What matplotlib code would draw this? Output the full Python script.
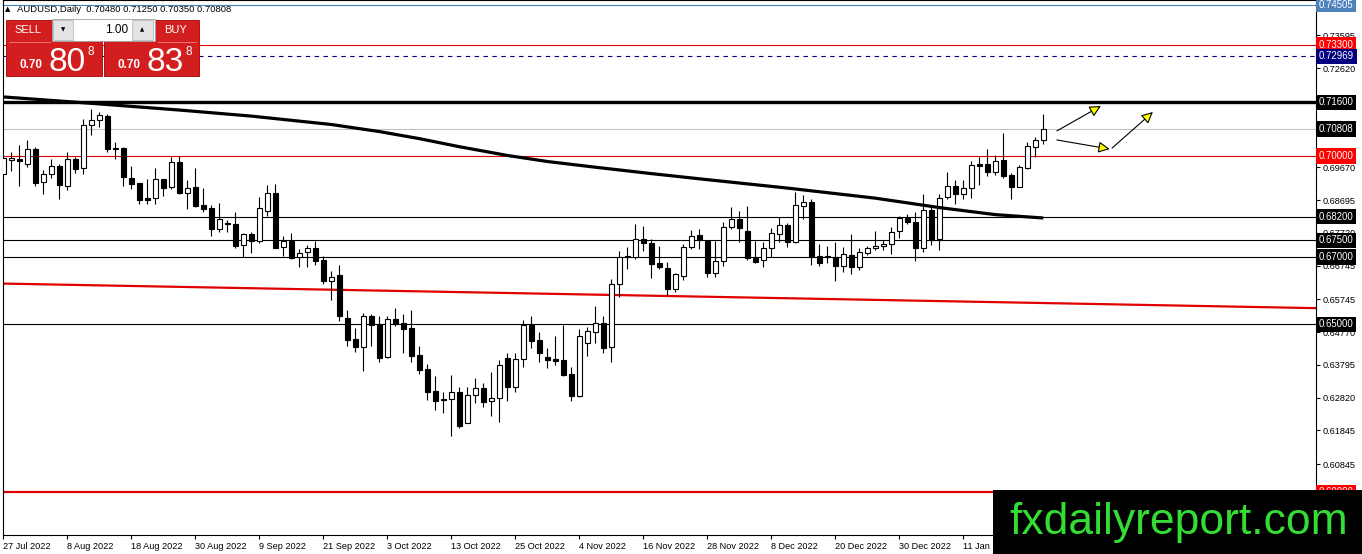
import matplotlib
matplotlib.use('Agg')
import matplotlib.pyplot as plt
import matplotlib.transforms as mtransforms
from matplotlib.patches import Rectangle

plt.rcParams['font.family'] = ['Liberation Sans', 'DejaVu Sans']

# daily AUDUSD candles, 27 Jul 2022 onwards
opens = [0.6946, 0.6989, 0.6991, 0.6978, 0.7021, 0.6922, 0.6946, 0.6971, 0.6910, 0.6990,
         0.6964, 0.7093, 0.7107, 0.7118, 0.7025, 0.7023, 0.6935, 0.6920, 0.6875, 0.6875,
         0.6931, 0.6908, 0.6982, 0.6889, 0.6907, 0.6855, 0.6846, 0.6784, 0.6802, 0.6798,
         0.6735, 0.6767, 0.6749, 0.6838, 0.6889, 0.6729, 0.6749, 0.6701, 0.6716, 0.6726,
         0.6691, 0.6630, 0.6646, 0.6518, 0.6455, 0.6433, 0.6525, 0.6501, 0.6404, 0.6515,
         0.6503, 0.6489, 0.6408, 0.6366, 0.6302, 0.6278, 0.6277, 0.6300, 0.6207, 0.6289,
         0.6310, 0.6272, 0.6280, 0.6399, 0.6313, 0.6396, 0.6498, 0.6453, 0.6402, 0.6396,
         0.6394, 0.6352, 0.6287, 0.6445, 0.6478, 0.6505, 0.6431, 0.6619, 0.6703, 0.6701,
         0.6754, 0.6741, 0.6681, 0.6666, 0.6605, 0.6645, 0.6731, 0.6765, 0.6749, 0.6652,
         0.6688, 0.6788, 0.6812, 0.6777, 0.6696, 0.6691, 0.6726, 0.6769, 0.6795, 0.6744,
         0.6853, 0.6863, 0.6703, 0.6703, 0.6701, 0.6674, 0.6706, 0.6669, 0.6713, 0.6726,
         0.6733, 0.6739, 0.6777, 0.6817, 0.6803, 0.6726, 0.6840, 0.6753, 0.6877, 0.6912,
         0.6887, 0.6904, 0.6976, 0.6976, 0.6954, 0.6988, 0.6944, 0.6909, 0.6964, 0.7028,
         0.70480]
highs = [0.7003, 0.7013, 0.7033, 0.7048, 0.7028, 0.6958, 0.6990, 0.6976, 0.7011, 0.6996,
         0.7109, 0.7140, 0.7132, 0.7125, 0.7041, 0.7028, 0.6972, 0.6920, 0.6932, 0.6965,
         0.6931, 0.6998, 0.6999, 0.6929, 0.6965, 0.6904, 0.6855, 0.6860, 0.6810, 0.6833,
         0.6772, 0.6775, 0.6877, 0.6914, 0.6917, 0.6763, 0.6770, 0.6725, 0.6736, 0.6748,
         0.6703, 0.6657, 0.6676, 0.6541, 0.6488, 0.6534, 0.6531, 0.6525, 0.6525, 0.6547,
         0.6531, 0.6542, 0.6435, 0.6382, 0.6346, 0.6300, 0.6349, 0.6313, 0.6313, 0.6339,
         0.6326, 0.6359, 0.6394, 0.6414, 0.6416, 0.6513, 0.6526, 0.6478, 0.6428, 0.6465,
         0.6498, 0.6374, 0.6485, 0.6493, 0.6554, 0.6525, 0.6635, 0.6718, 0.6731, 0.6797,
         0.6793, 0.6753, 0.6733, 0.6686, 0.6651, 0.6738, 0.6780, 0.6783, 0.6751, 0.6748,
         0.6805, 0.6850, 0.6837, 0.6852, 0.6748, 0.6746, 0.6785, 0.6818, 0.6802, 0.6894,
         0.6885, 0.6872, 0.6739, 0.6733, 0.6746, 0.6729, 0.6768, 0.6726, 0.6733, 0.6778,
         0.6751, 0.6790, 0.6822, 0.6828, 0.6835, 0.6887, 0.6850, 0.6887, 0.6954, 0.6929,
         0.6929, 0.6985, 0.6996, 0.7020, 0.7003, 0.7068, 0.6951, 0.6974, 0.7041, 0.7058,
         0.71250]
lows = [0.6939, 0.6956, 0.6912, 0.6969, 0.6912, 0.6886, 0.6936, 0.6872, 0.6898, 0.6951,
        0.6948, 0.7063, 0.7086, 0.7011, 0.6991, 0.6912, 0.6901, 0.6859, 0.6859, 0.6857,
        0.6881, 0.6903, 0.6887, 0.6842, 0.6848, 0.6835, 0.6763, 0.6775, 0.6774, 0.6728,
        0.6701, 0.6713, 0.6743, 0.6822, 0.6728, 0.6703, 0.6693, 0.6671, 0.6671, 0.6676,
        0.6620, 0.6572, 0.6511, 0.6436, 0.6419, 0.6362, 0.6435, 0.6389, 0.6401, 0.6495,
        0.6416, 0.6389, 0.6352, 0.6275, 0.6245, 0.6235, 0.6169, 0.6193, 0.6206, 0.6267,
        0.6253, 0.6227, 0.6210, 0.6273, 0.6300, 0.6372, 0.6428, 0.6389, 0.6369, 0.6379,
        0.6346, 0.6273, 0.6285, 0.6406, 0.6445, 0.6416, 0.6387, 0.6582, 0.6663, 0.6693,
        0.6718, 0.6637, 0.6663, 0.6587, 0.6597, 0.6632, 0.6723, 0.6724, 0.6642, 0.6642,
        0.6673, 0.6782, 0.6746, 0.6691, 0.6681, 0.6669, 0.6701, 0.6744, 0.6729, 0.6741,
        0.6812, 0.6676, 0.6673, 0.6681, 0.6630, 0.6656, 0.6650, 0.6661, 0.6706, 0.6721,
        0.6721, 0.6709, 0.6756, 0.6798, 0.6689, 0.6716, 0.6736, 0.6721, 0.6872, 0.6858,
        0.6872, 0.6874, 0.6914, 0.6941, 0.6944, 0.6934, 0.6872, 0.6907, 0.6961, 0.6996,
        0.70350]
closes = [0.6993, 0.6995, 0.6984, 0.7021, 0.6921, 0.6946, 0.6971, 0.6913, 0.6990, 0.6963,
          0.7092, 0.7107, 0.7121, 0.7022, 0.7020, 0.6937, 0.6918, 0.6869, 0.6870, 0.6931,
          0.6906, 0.6982, 0.6889, 0.6904, 0.6853, 0.6842, 0.6784, 0.6812, 0.6798, 0.6733,
          0.6767, 0.6749, 0.6845, 0.6889, 0.6728, 0.6749, 0.6696, 0.6713, 0.6726, 0.6689,
          0.6630, 0.6642, 0.6526, 0.6453, 0.6433, 0.6525, 0.6498, 0.6399, 0.6515, 0.6501,
          0.6487, 0.6407, 0.6364, 0.6300, 0.6273, 0.6274, 0.6298, 0.6198, 0.6289, 0.6310,
          0.6270, 0.6280, 0.6378, 0.6312, 0.6396, 0.6498, 0.6451, 0.6414, 0.6395, 0.6392,
          0.6349, 0.6287, 0.6465, 0.6480, 0.6505, 0.6430, 0.6619, 0.6701, 0.6699, 0.6753,
          0.6742, 0.6680, 0.6669, 0.6605, 0.6649, 0.6731, 0.6763, 0.6751, 0.6652, 0.6688,
          0.6788, 0.6812, 0.6785, 0.6696, 0.6686, 0.6726, 0.6772, 0.6795, 0.6746, 0.6855,
          0.6863, 0.6699, 0.6683, 0.6699, 0.6674, 0.6708, 0.6669, 0.6715, 0.6726, 0.6733,
          0.6739, 0.6775, 0.6817, 0.6803, 0.6726, 0.6840, 0.6751, 0.6874, 0.6912, 0.6887,
          0.6904, 0.6974, 0.6972, 0.6954, 0.6986, 0.6941, 0.6909, 0.6967, 0.7030, 0.7048,
          0.70808]

# slow moving average (sampled along the curve)
ma_idx = [0, 11, 22, 31, 41, 47, 52, 57, 63, 68, 74, 81, 88, 98, 109, 117, 124, 130]
ma_vals = [0.7176, 0.7157, 0.7137, 0.7119, 0.7094, 0.7073, 0.7052, 0.7028, 0.7002,
           0.6984, 0.6967, 0.6948, 0.6930, 0.6905, 0.6875, 0.6847, 0.6826, 0.6816]

# red trend line (two anchor points)
trend_idx = [0, 164]
trend_vals = [0.6621, 0.6548]

# horizontal levels: price, colour, width, style
levels = [
    (0.74505, '#4682b4', 0.8, '-'),
    (0.73300, '#e00000', 0.8, '-'),
    (0.72969, '#000080', 0.8, (0, (4, 4))),
    (0.71600, '#000000', 2.4, '-'),
    (0.70808, '#c0c0c0', 0.8, '-'),
    (0.70000, '#e00000', 0.8, '-'),
    (0.68200, '#000000', 0.8, '-'),
    (0.67500, '#000000', 0.8, '-'),
    (0.67000, '#000000', 0.8, '-'),
    (0.65000, '#000000', 0.8, '-'),
    (0.60000, '#e00000', 1.6, '-'),
]
level_labels = [
    (0.74505, '#4f81bd'), (0.73300, '#ff0000'), (0.72969, '#000080'),
    (0.71600, '#000000'), (0.70808, '#000000'), (0.70000, '#ff0000'),
    (0.68200, '#000000'), (0.67500, '#000000'), (0.67000, '#000000'),
    (0.65000, '#000000'), (0.60000, '#ff0000'),
]

price_ticks = [0.73595, 0.72620, 0.70670, 0.69670, 0.68695, 0.67720, 0.66745,
               0.65745, 0.64770, 0.63795, 0.62820, 0.61845, 0.60845]
date_ticks = list(range(0, 121, 8))
date_labels = ['27 Jul 2022', '8 Aug 2022', '18 Aug 2022', '30 Aug 2022', '9 Sep 2022',
               '21 Sep 2022', '3 Oct 2022', '13 Oct 2022', '25 Oct 2022', '4 Nov 2022',
               '16 Nov 2022', '28 Nov 2022', '8 Dec 2022', '20 Dec 2022', '30 Dec 2022',
               '11 Jan 2023']

# hand-drawn yellow arrows (bar index, price)
arrows = [((131.7, 0.7075), (137.2, 0.7149)),
          ((131.7, 0.7048), (138.3, 0.7021)),
          ((138.6, 0.7024), (143.7, 0.7131))]

W, H = 1362, 554
fig = plt.figure(figsize=(W / 100, H / 100), dpi=100)
fig.patch.set_facecolor('white')
ax = fig.add_axes([3 / W, 19 / H, 1313 / W, 535 / H])
ax.set_xlim(-0.04, 164.09)
ax.set_ylim(0.58734, 0.74642)

for price, col, lw, ls in levels:
    ax.axhline(price, color=col, lw=lw, ls=ls, zorder=1)
ax.plot(trend_idx, trend_vals, color='#e00000', lw=1.6, zorder=1)

# candles
bw = 0.6
for i, (o, h, l, c) in enumerate(zip(opens, highs, lows, closes)):
    ax.vlines(i, l, h, color='black', lw=0.8, zorder=2)
    bull = c >= o
    bottom = min(o, c)
    height = max(abs(c - o), 0.00008)
    ax.add_patch(Rectangle((i - bw / 2, bottom), bw, height,
                           facecolor='white' if bull else 'black',
                           edgecolor='black', lw=0.8, zorder=3))

ax.plot(ma_idx, ma_vals, color='black', lw=2.3, zorder=4,
        solid_capstyle='butt', solid_joinstyle='round')

for start, end in arrows:
    ax.annotate('', xy=end, xytext=start,
                arrowprops=dict(arrowstyle='-|>', fc='#ffff00', ec='black',
                                lw=0.8, mutation_scale=17, shrinkA=0, shrinkB=0),
                zorder=5)

# axes styling
for s in ax.spines.values():
    s.set_color('black')
    s.set_linewidth(0.8)
ax.yaxis.tick_right()
ax.set_yticks(price_ticks)
ax.set_yticklabels([f'{p:.5f}' for p in price_ticks])
ax.set_xticks(date_ticks)
ax.set_xticklabels(date_labels)
for lab in ax.get_xticklabels():
    lab.set_horizontalalignment('left')
ax.tick_params(axis='both', labelsize=6.6, length=3, width=0.8, pad=2, color='black')

trans = mtransforms.blended_transform_factory(ax.transAxes, ax.transData)
for price, bg in level_labels:
    ax.text(1.0022, price, f'{price:.5f}', transform=trans, ha='left', va='center',
            color='white', fontsize=6.9, clip_on=False, zorder=6,
            bbox=dict(boxstyle='square,pad=0.28', fc=bg, ec='none'))


def fx(x):
    return x / W


def fy(y):
    return 1 - y / H


# header
fig.text(fx(5), fy(9), '\u25b2', fontsize=5, va='center', ha='left',
         family=['DejaVu Sans'])
fig.text(fx(17), fy(9), 'AUDUSD,Daily  0.70480 0.71250 0.70350 0.70808',
         fontsize=6.8, va='center', ha='left')

# one-click trading panel
red = '#d21e1e'
fig.patches.append(Rectangle((fx(6), fy(76)), fx(96), 56 / H, transform=fig.transFigure,
                             fc=red, ec='#a80000', lw=0.6, zorder=10))
fig.patches.append(Rectangle((fx(104), fy(76)), fx(95), 56 / H, transform=fig.transFigure,
                             fc=red, ec='#a80000', lw=0.6, zorder=10))
# spin box
fig.patches.append(Rectangle((fx(52), fy(41)), fx(103), 22 / H, transform=fig.transFigure,
                             fc='white', ec='#a0a0a0', lw=0.6, zorder=11))
fig.patches.append(Rectangle((fx(53), fy(40)), fx(20), 20 / H, transform=fig.transFigure,
                             fc='#e4e4e4', ec='#b0b0b0', lw=0.5, zorder=12))
fig.patches.append(Rectangle((fx(132), fy(40)), fx(21), 20 / H, transform=fig.transFigure,
                             fc='#e4e4e4', ec='#b0b0b0', lw=0.5, zorder=12))
fig.text(fx(63), fy(30), '\u25bc', fontsize=4, ha='center', va='center', zorder=13,
         family=['DejaVu Sans'])
fig.text(fx(142), fy(30), '\u25b2', fontsize=4, ha='center', va='center', zorder=13,
         family=['DejaVu Sans'])
fig.text(fx(128), fy(30), '1.00', fontsize=8.5, ha='right', va='center', zorder=13)
# thin separators under SELL / BUY
fig.add_artist(plt.Line2D([fx(9), fx(50)], [fy(41.5), fy(41.5)], color='#f08080', lw=0.6,
                          zorder=13))
fig.add_artist(plt.Line2D([fx(158), fx(196)], [fy(41.5), fy(41.5)], color='#f08080', lw=0.6,
                          zorder=13))
fig.text(fx(28), fy(30), 'SELL', color='white', fontsize=8, ha='center', va='center',
         zorder=13)
fig.text(fx(176), fy(30), 'BUY', color='white', fontsize=8, ha='center', va='center',
         zorder=13)
for x0, big in ((20, '80'), (118, '83')):
    fig.text(fx(x0), fy(68), '0.70', color='white', fontsize=8.5, fontweight='bold',
             ha='left', va='baseline', zorder=13)
    fig.text(fx(x0 + 28), fy(71), big, color='white', fontsize=24, ha='left',
             va='baseline', zorder=13)
    fig.text(fx(x0 + 67), fy(55), '8', color='white', fontsize=8.5, ha='left',
             va='baseline', zorder=13)

# watermark
fig.patches.append(Rectangle((fx(993), 0), 1 - fx(993), 64 / H, transform=fig.transFigure,
                             fc='black', ec='none', zorder=20))
fig.text(fx(1179), fy(534), 'fxdailyreport.com', color='#33dd33', fontsize=32,
         ha='center', va='baseline', zorder=21)

fig.savefig('out.png', dpi=100, facecolor='white')
